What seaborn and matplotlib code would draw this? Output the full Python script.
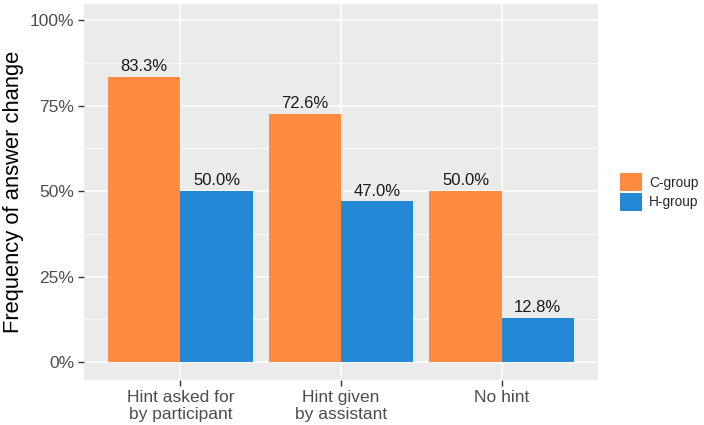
import pandas as pd
import numpy as np
import matplotlib
matplotlib.use("Agg")
import matplotlib.pyplot as plt
import seaborn as sns
from matplotlib.ticker import MultipleLocator, FuncFormatter

# data
categories = ["Hint asked for\nby participant", "Hint given\nby assistant", "No hint"]
groups = ["C-group", "H-group"]
c_group = [83.3, 72.6, 50.0]
h_group = [50.0, 47.0, 12.8]
palette = {"C-group": "#FE8B40", "H-group": "#2388D6"}

df = pd.DataFrame({
    "Condition": categories * 2,
    "Group": ["C-group"] * 3 + ["H-group"] * 3,
    "Freq": c_group + h_group,
})

sns.set_theme(style="darkgrid", rc={
    "axes.facecolor": "#EBEBEB",
    "grid.color": "white",
    "axes.edgecolor": "none",
})
plt.rcParams["font.family"] = ["Liberation Sans", "DejaVu Sans"]

fig = plt.figure(figsize=(7.04, 4.25), dpi=100)
ax = fig.add_axes([84 / 704, 45 / 425, 514 / 704, 376 / 425])

sns.barplot(data=df, x="Condition", y="Freq", hue="Group", order=categories,
            hue_order=groups, palette=palette, width=0.9, saturation=1,
            errorbar=None, ax=ax, zorder=3, linewidth=0, edgecolor="none")

for container in ax.containers:
    ax.bar_label(container, fmt="%.1f%%", padding=2, fontsize=12, color="#1A1A1A")

ax.set_xlim(-0.6, 2.6)
ax.set_ylim(-5.26, 104.7)
ax.yaxis.set_major_locator(MultipleLocator(25))
ax.yaxis.set_minor_locator(MultipleLocator(12.5))
ax.yaxis.set_major_formatter(FuncFormatter(lambda v, p: f"{v:.0f}%"))
ax.grid(which="major", color="white", linewidth=1.1)
ax.grid(which="minor", axis="y", color="white", linewidth=0.55)
ax.set_axisbelow(True)
ax.tick_params(axis="both", which="major", length=4, width=1, color="#333333",
               labelsize=12.5, labelcolor="#4D4D4D", pad=3, left=True, bottom=True)
ax.tick_params(axis="y", which="minor", length=0)
ax.set_xlabel("")
ax.set_ylabel("Frequency of answer change", fontsize=15.8, color="black", labelpad=4)

handles, labels = ax.get_legend_handles_labels()
ax.legend(handles, labels, loc="center left", bbox_to_anchor=(1.033, 0.5),
          frameon=False, fontsize=9.8, handlelength=1.6, handleheight=1.6,
          handletextpad=0.5, labelspacing=0.15, borderaxespad=0)

fig.savefig("out.png", dpi=100)
